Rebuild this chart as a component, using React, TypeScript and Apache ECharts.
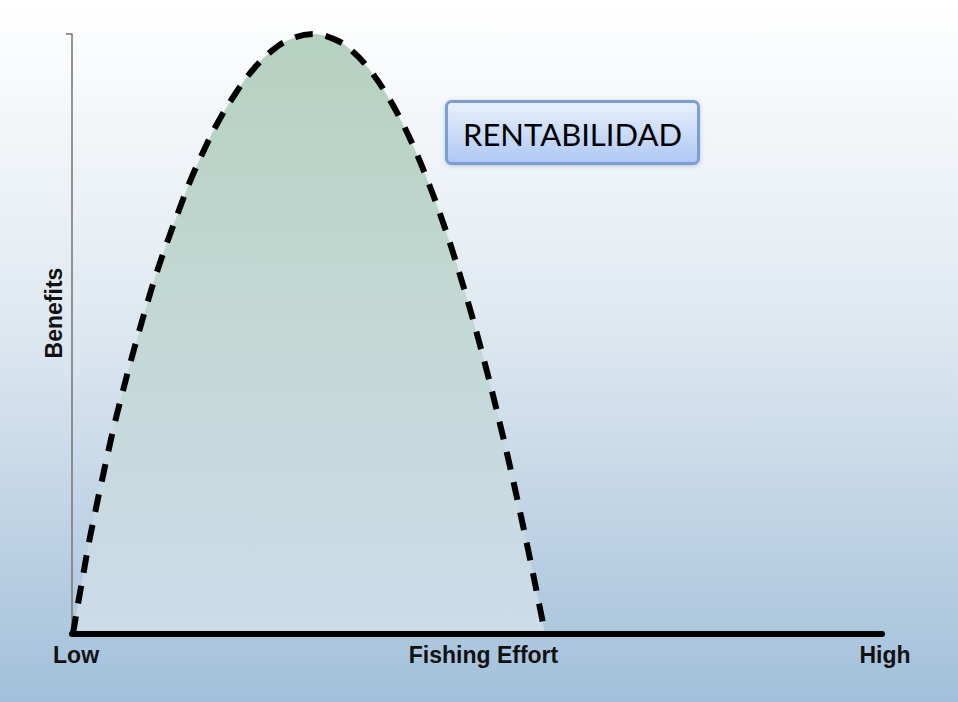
import React, { useEffect, useRef } from "react";
import * as echarts from "echarts";

// Curve: [fishing effort (0-100), benefits (0-100)]
const curveEffort = [
  0.12, 0.74, 1.4, 2.06, 2.81, 3.6, 4.41, 5.25, 6.19, 7.16, 8.19, 9.26, 10.4, 11.67, 13.03,
  14.44, 16.07, 17.9, 20.14, 22.31, 24.49, 26.73, 29.75,
  32.6, 34.72, 36.77, 38.81, 40.85, 42.57, 44.07, 45.44, 46.7, 47.86, 48.96, 50.0, 50.99,
  51.94, 52.84, 53.72, 54.56, 55.37, 56.16, 56.93, 57.67, 58.42,
];
const curveBenefits = [
  0, 5, 10, 15, 20, 25, 30, 35, 40, 45, 50, 55, 60, 65, 70,
  75, 80, 85, 90, 94, 97, 99, 100,
  99, 97, 94, 90, 85, 80, 75, 70, 65, 60, 55, 50, 45,
  40, 35, 30, 25, 20, 15, 10, 5, 0,
];

const xTickValues = [0.5, 50.8, 100];
const xTickLabels = ["Low", "Fishing Effort", "High"];
const yAxisName = "Benefits";
const boxLabel = "RENTABILIDAD";

const labelFont = "Liberation Sans, Arial, sans-serif";

export default function App() {
  const ref = useRef<HTMLDivElement>(null);

  useEffect(() => {
    if (!ref.current) return;
    const chart = echarts.init(ref.current, null, { renderer: "svg" });
    const data = curveEffort.map((x, i) => [x, curveBenefits[i]]);

    chart.setOption({
      animation: false,
      backgroundColor: new echarts.graphic.LinearGradient(0, 0, 0, 1, [
        { offset: 0, color: "#ffffff" },
        { offset: 0.45, color: "#e0e9f1" },
        { offset: 1, color: "#a2c0da" },
      ]),
      grid: { left: 72, right: 76, top: 34, bottom: 68 },
      xAxis: {
        type: "value",
        min: 0,
        max: 100,
        splitLine: { show: false },
        axisTick: { show: false },
        axisLine: { show: true, lineStyle: { color: "#000000", width: 6 } },
        axisLabel: {
          customValues: xTickValues,
          margin: 9,
          fontFamily: labelFont,
          fontWeight: "bold",
          fontSize: 23,
          color: "#111111",
          formatter: (v: number) => {
            const i = xTickValues.findIndex((t) => Math.abs(t - v) < 1e-6);
            const s = i >= 0 ? xTickLabels[i] : "";
            return i === 2 ? "{hi|" + s + "}" : s;
          },
          rich: {
            hi: {
              padding: [0, 0, 0, 6],
              fontFamily: labelFont,
              fontWeight: "bold",
              fontSize: 23,
              color: "#111111",
            },
          },
        },
        z: 5,
      },
      yAxis: {
        type: "value",
        min: 0,
        max: 100,
        interval: 100,
        name: yAxisName,
        nameLocation: "middle",
        nameRotate: 90,
        nameGap: 7,
        nameTextStyle: {
          fontFamily: labelFont,
          fontWeight: "bold",
          fontSize: 23,
          color: "#111111",
          padding: [0, 0, 0, 42],
        },
        splitLine: { show: false },
        axisLabel: { show: false },
        axisLine: { show: true, lineStyle: { color: "#7a7a7a", width: 1.6 } },
        axisTick: { show: true, customValues: [100], length: 6, lineStyle: { color: "#7a7a7a", width: 1.6 } },
      },
      series: [
        {
          type: "line",
          data,
          smooth: 0.4,
          showSymbol: false,
          lineStyle: { color: "#000000", width: 6, type: [18, 13], cap: "butt" },
          areaStyle: {
            origin: "start",
            color: new echarts.graphic.LinearGradient(0, 0, 0, 1, [
              { offset: 0, color: "#97bea5" },
              { offset: 0.5, color: "#b9d2cb" },
              { offset: 1, color: "#dae4ee" },
            ]),
          },
          z: 3,
        },
      ],
      graphic: [
        {
          type: "group",
          left: 445,
          top: 100,
          children: [
            {
              type: "rect",
              shape: { x: 0, y: 0, width: 252, height: 62, r: 5 },
              style: {
                fill: new echarts.graphic.LinearGradient(0, 0, 0, 1, [
                  { offset: 0, color: "#eaf1fc" },
                  { offset: 1, color: "#adc7f4" },
                ]),
                stroke: "#7b9fcf",
                lineWidth: 3,
                shadowBlur: 4,
                shadowColor: "rgba(80,110,160,0.35)",
                shadowOffsetY: 1,
              },
            },
            {
              type: "text",
              x: 126,
              y: 32,
              style: {
                text: boxLabel,
                fontFamily: "Lato, sans-serif",
                fontSize: 31,
                fill: "#000000",
                align: "center",
                verticalAlign: "middle",
              },
            },
          ],
        },
      ],
    });

    return () => chart.dispose();
  }, []);

  return (
    <div
      ref={ref}
      style={{ position: "fixed", left: 0, top: 0, width: 958, height: 702 }}
    />
  );
}
